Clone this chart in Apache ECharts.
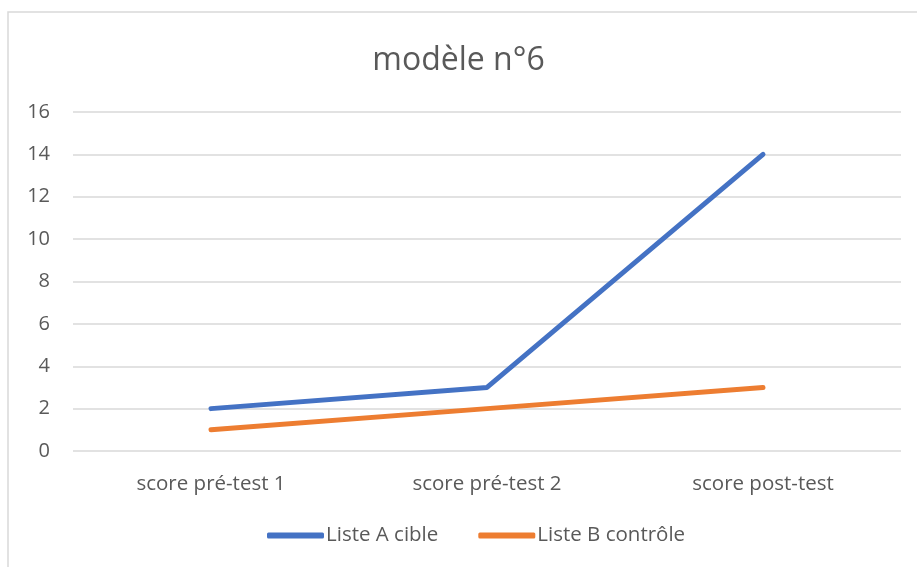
<!DOCTYPE html>
<html>
<head>
<meta charset="utf-8">
<script src="https://cdn.jsdelivr.net/npm/echarts@6/dist/echarts.min.js"></script>
<style>
  html, body { margin: 0; padding: 0; background: #fff; }
  #chart { width: 917px; height: 567px; }
</style>
</head>
<body>
<div id="chart"></div>
<script>
  // data
  var categories = ['score pré-test 1', 'score pré-test 2', 'score post-test'];
  var listeA = [2, 3, 14];
  var listeB = [1, 2, 3];
  var seriesNames = ['Liste A cible', 'Liste B contrôle'];

  var font = '"Open Sans", "Roboto", sans-serif';
  var textColor = '#595959';

  var myChart = echarts.init(document.getElementById('chart'));
  myChart.setOption({
    animation: false,
    title: {
      text: 'modèle n°6',
      left: 'center',
      top: 40,
      textStyle: { fontFamily: font, fontSize: 32, fontWeight: 'normal', color: textColor }
    },
    graphic: [{
      type: 'rect',
      shape: { x: 8, y: 12, width: 940, height: 600 },
      style: { fill: 'none', stroke: '#d9d9d9', lineWidth: 1.5 },
      silent: true
    }],
    legend: {
      bottom: 16,
      left: 262,
      itemWidth: 57,
      itemHeight: 6,
      itemGap: 40,
      icon: 'roundRect',
      data: seriesNames,
      textStyle: { fontFamily: font, fontSize: 20.5, color: textColor, padding: [0, 0, 0, -3] }
    },
    grid: { left: 73, right: 16, top: 112, bottom: 116 },
    xAxis: {
      type: 'category',
      data: categories,
      boundaryGap: true,
      axisLine: { show: false },
      axisTick: { show: false },
      axisLabel: { fontFamily: font, fontSize: 20.5, color: textColor, margin: 23 }
    },
    yAxis: {
      type: 'value',
      min: 0,
      max: 16,
      interval: 2,
      axisLine: { show: false },
      axisTick: { show: false },
      axisLabel: { fontFamily: font, fontSize: 20, color: textColor, margin: 23 },
      splitLine: { lineStyle: { color: '#d9d9d9', width: 1.5 } }
    },
    series: [
      {
        name: seriesNames[0],
        type: 'line',
        data: listeA,
        symbol: 'none',
        color: '#4472C4',
        lineStyle: { width: 5, cap: 'round' }
      },
      {
        name: seriesNames[1],
        type: 'line',
        data: listeB,
        symbol: 'none',
        color: '#ED7D31',
        lineStyle: { width: 5, cap: 'round' }
      }
    ]
  });
</script>
</body>
</html>
